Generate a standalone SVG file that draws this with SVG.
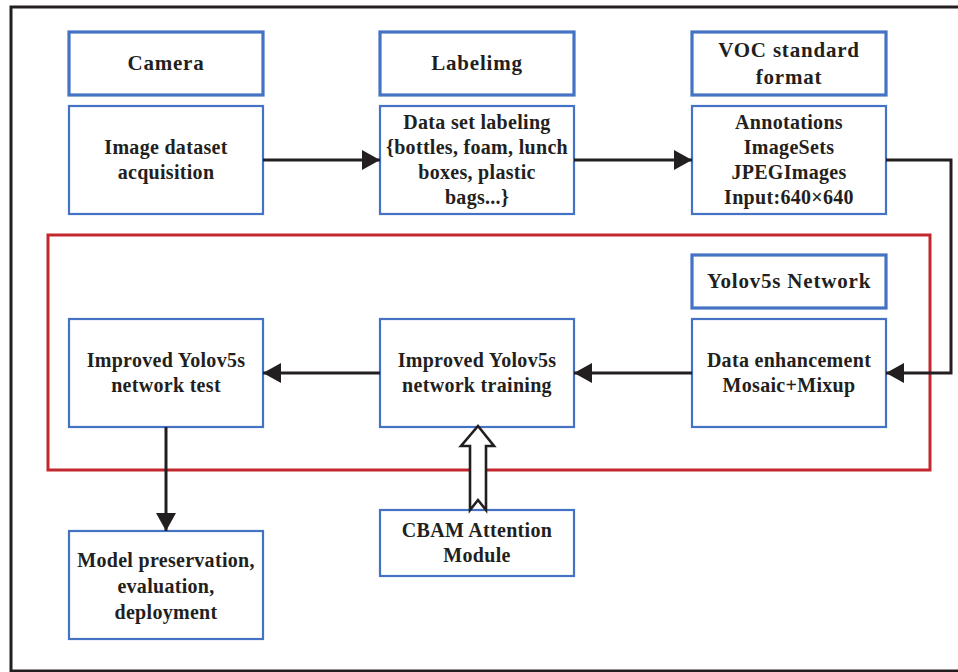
<svg xmlns="http://www.w3.org/2000/svg" width="958" height="672" viewBox="0 0 958 672">
  <style>
    .title { fill: #ffffff; stroke: #4472c4; stroke-width: 3.2; }
    .box { fill: #ffffff; stroke: #4472c4; stroke-width: 2.2; }
    .t { font-family: "Liberation Serif", "Times New Roman", serif; font-weight: bold; fill: #231f20; text-anchor: middle; }
    .tt { font-size: 21px; letter-spacing: 0.8px; }
    .bt { font-size: 20px; letter-spacing: 0.3px; }
    .line { fill: none; stroke: #231f20; stroke-width: 3; }
  </style>
  <defs>
    <marker id="head" markerUnits="userSpaceOnUse" markerWidth="18" markerHeight="20" refX="18" refY="10" orient="auto">
      <path d="M0,0 L18,10 L0,20 z" fill="#231f20"/>
    </marker>
  </defs>

  <!-- outer frame -->
  <rect x="11" y="7" width="962" height="664" fill="#ffffff" stroke="#231f20" stroke-width="3"/>

  <!-- network region -->
  <rect id="network-region" x="48" y="235" width="882" height="235" fill="none" stroke="#c1272d" stroke-width="3"/>

  <g id="camera">
    <rect class="title" x="69" y="32" width="194" height="63"/>
    <text class="t tt" x="166" y="70">Camera</text>
  </g>
  <g id="acquisition">
    <rect class="box" x="69" y="106" width="194" height="108"/>
    <text class="t bt" x="166" y="154">Image dataset</text>
    <text class="t bt" x="166" y="179">acquisition</text>
  </g>

  <g id="labelimg">
    <rect class="title" x="380" y="32" width="194" height="63"/>
    <text class="t tt" x="477" y="70">Labelimg</text>
  </g>
  <g id="labeling">
    <rect class="box" x="380" y="106" width="194" height="108"/>
    <text class="t bt" x="477" y="129">Data set labeling</text>
    <text class="t bt" x="477" y="154">{bottles, foam, lunch</text>
    <text class="t bt" x="477" y="179">boxes, plastic</text>
    <text class="t bt" x="477" y="204">bags...}</text>
  </g>

  <g id="voc">
    <rect class="title" x="692" y="32" width="194" height="63"/>
    <text class="t tt" x="789" y="57">VOC standard</text>
    <text class="t tt" x="789" y="84">format</text>
  </g>
  <g id="voc-content">
    <rect class="box" x="692" y="106" width="194" height="108"/>
    <text class="t bt" x="789" y="129">Annotations</text>
    <text class="t bt" x="789" y="154">ImageSets</text>
    <text class="t bt" x="789" y="179">JPEGImages</text>
    <text class="t bt" x="789" y="204">Input:640×640</text>
  </g>

  <g id="yolov5s">
    <rect class="title" x="692" y="255" width="194" height="53"/>
    <text class="t tt" x="789" y="288">Yolov5s Network</text>
  </g>
  <g id="enhancement">
    <rect class="box" x="692" y="319" width="194" height="108"/>
    <text class="t bt" x="789" y="367">Data enhancement</text>
    <text class="t bt" x="789" y="392">Mosaic+Mixup</text>
  </g>

  <g id="training">
    <rect class="box" x="380" y="319" width="194" height="108"/>
    <text class="t bt" x="477" y="367">Improved Yolov5s</text>
    <text class="t bt" x="477" y="392">network training</text>
  </g>

  <g id="test">
    <rect class="box" x="69" y="319" width="194" height="108"/>
    <text class="t bt" x="166" y="367">Improved Yolov5s</text>
    <text class="t bt" x="166" y="392">network test</text>
  </g>

  <g id="model">
    <rect class="box" x="69" y="531" width="194" height="108"/>
    <text class="t bt" x="166" y="567">Model preservation,</text>
    <text class="t bt" x="166" y="593">evaluation,</text>
    <text class="t bt" x="166" y="619">deployment</text>
  </g>

  <g id="cbam">
    <rect class="box" x="380" y="510" width="194" height="66"/>
    <text class="t bt" x="477" y="537">CBAM Attention</text>
    <text class="t bt" x="477" y="562">Module</text>
  </g>

  <g id="connectors">
    <line class="line" x1="263" y1="160" x2="380" y2="160" marker-end="url(#head)"/>
    <line class="line" x1="574" y1="160" x2="692" y2="160" marker-end="url(#head)"/>
    <polyline class="line" points="886,160 951,160 951,373 886,373" marker-end="url(#head)"/>
    <line class="line" x1="692" y1="373" x2="574" y2="373" marker-end="url(#head)"/>
    <line class="line" x1="380" y1="373" x2="263" y2="373" marker-end="url(#head)"/>
    <line class="line" x1="166" y1="427" x2="166" y2="531" marker-end="url(#head)"/>
    <!-- hollow arrow from the attention module -->
    <polygon points="478,426 494,446 486,446 486,510 478,500 470,510 470,446 461,446" fill="#ffffff" stroke="#231f20" stroke-width="2.6" stroke-linejoin="miter"/>
  </g>
</svg>
